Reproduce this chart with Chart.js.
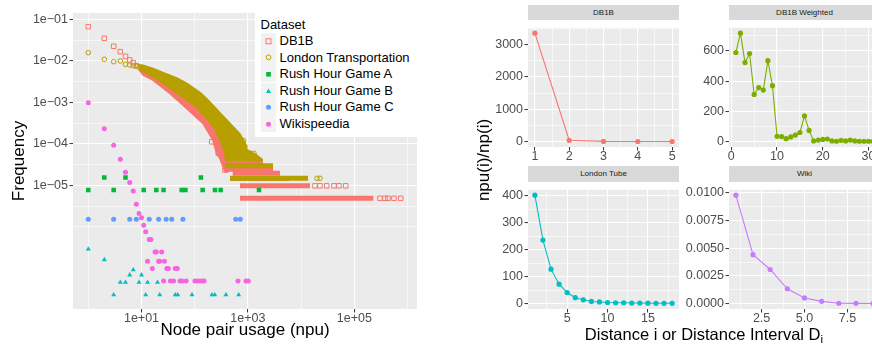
<!DOCTYPE html>
<html><head><meta charset="utf-8">
<script src="https://cdn.jsdelivr.net/npm/chart.js@4.4.1/dist/chart.umd.min.js"></script>
<style>
html,body{margin:0;padding:0;background:#fff;width:872px;height:346px;overflow:hidden;font-family:"Liberation Sans",Arial,Helvetica,sans-serif;}
canvas{position:absolute;}
.strip{position:absolute;background:#d9d9d9;color:#1a1a1a;font-size:8px;text-align:center;white-space:nowrap;}
.lg{position:absolute;font-size:13px;color:#000;white-space:nowrap;line-height:16px;}
.key{position:absolute;left:261px;width:15px;height:16.6px;background:#f2f2f2;}
.key svg{position:absolute;left:0;top:0;}
.ttl{position:absolute;color:#000;white-space:nowrap;text-align:center;}
sub{font-size:70%;vertical-align:-0.3em;line-height:0;}
</style></head><body>
<canvas id="main" width="427" height="346" style="left:0;top:0"></canvas>
<canvas id="f1" width="211" height="143" style="left:478px;top:20px"></canvas>
<canvas id="f2" width="212" height="143" style="left:680px;top:20px"></canvas>
<canvas id="f3" width="211" height="143" style="left:478px;top:182px"></canvas>
<canvas id="f4" width="212" height="143" style="left:680px;top:182px"></canvas>

<div style="position:absolute;left:255px;top:13px;width:162px;height:124px;background:#fff"></div>
<div class="lg" style="left:260.5px;top:16.5px">Dataset</div>
<div class="key" style="top:32.7px"><svg width="15" height="17"><rect x="5" y="5.8" width="5" height="5" fill="none" stroke="#F8766D" stroke-width="1"/></svg></div>
<div class="key" style="top:49.3px"><svg width="15" height="17"><circle cx="7.5" cy="8.3" r="2.4" fill="none" stroke="#B79F00" stroke-width="1"/></svg></div>
<div class="key" style="top:65.9px"><svg width="15" height="17"><rect x="5.2" y="6" width="4.6" height="4.6" fill="#00BA38"/></svg></div>
<div class="key" style="top:82.5px"><svg width="15" height="17"><polygon points="7.5,5.6 10,10 5,10" fill="#00BFC4"/></svg></div>
<div class="key" style="top:99.1px"><svg width="15" height="17"><circle cx="7.5" cy="8.3" r="2.5" fill="#619CFF"/></svg></div>
<div class="key" style="top:115.7px"><svg width="15" height="17"><circle cx="7.5" cy="8.3" r="2.5" fill="#F564E3"/></svg></div>
<div class="lg" style="left:279.5px;top:33px">DB1B</div>
<div class="lg" style="left:279.5px;top:49.6px">London Transportation</div>
<div class="lg" style="left:279.5px;top:66.2px">Rush Hour Game A</div>
<div class="lg" style="left:279.5px;top:82.8px">Rush Hour Game B</div>
<div class="lg" style="left:279.5px;top:99.4px">Rush Hour Game C</div>
<div class="lg" style="left:279.5px;top:116px">Wikispeedia</div>

<div class="strip" style="left:528px;top:5px;width:151px;height:15px;line-height:15px">DB1B</div>
<div class="strip" style="left:729px;top:5px;width:151px;height:15px;line-height:15px">DB1B Weighted</div>
<div class="strip" style="left:528px;top:166px;width:151px;height:16px;line-height:16px">London Tube</div>
<div class="strip" style="left:729px;top:166px;width:151px;height:16px;line-height:16px">Wiki</div>

<div class="ttl" style="left:384px;top:150px;width:200px;height:20px;line-height:20px;font-size:17px;transform:rotate(-90deg);">npu(i)/np(i)</div>
<div class="ttl" style="left:528px;top:324.3px;width:352px;height:20px;line-height:20px;font-size:16.5px;">Distance i or Distance Interval D<sub>i</sub></div>

<script>
// ===================== LEFT PANEL DATA (npu vs frequency) =====================
const db1bNpu  = [1, 2, 3, 4, 5, 6, 7, 8, 209, 278, 345, 371];
const db1bFreq = [0.0664, 0.0348, 0.0224, 0.0166, 0.0128, 0.0105, 0.009, 0.0076, 1.12e-4, 5.9e-5, 4.07e-5, 2.34e-5];
// outline of the dense DB1B point cloud
const db1bCloudNpu  = [9, 12.5, 25.7, 53, 109, 194, 326, 461, 820, 1100, 1100, 400, 371, 299, 259, 221, 145, 70.8, 34.3, 16.4, 10.7, 9];
const db1bCloudFreq = [0.0078, 0.0062, 0.0033, 0.0017, 0.00086, 0.00037, 0.000124, 5.4e-5, 4.5e-5, 3.8e-5, 3.4e-5, 2.1e-5, 2.2e-5, 4.5e-5, 6.0e-5, 0.000124, 0.00031, 0.00072, 0.00165, 0.00345, 0.0046, 0.0062];
// dense horizontal runs of DB1B points (low counts)
const db1bBandFreq = [4.86e-6, 9.72e-6, 1.46e-5, 1.94e-5, 2.43e-5, 3.6e-5];
const db1bBandFrom = [711, 711, 461, 518, 461, 387];
const db1bBandTo   = [227500, 14700, 6180, 4012, 2965, 1923];
const db1bTailNpu  = [18240, 22650, 30270, 41500, 51520, 68900, 304000, 377600, 429700, 557200, 744700];
const db1bTailFreq = [9.72e-6, 9.72e-6, 9.72e-6, 9.72e-6, 9.72e-6, 9.72e-6, 4.86e-6, 4.86e-6, 4.86e-6, 4.86e-6, 4.86e-6];

const londonNpu  = [1, 2, 3, 4, 5, 6, 7, 8, 9, 830, 880, 1130, 1300, 19910, 22650];
const londonFreq = [0.0157, 0.0109, 0.0095, 0.0099, 0.0082, 0.0079, 0.0076, 0.0074, 0.0070, 1.19e-4, 8.7e-5, 5.9e-5, 5.9e-5, 1.476e-5, 1.476e-5];
const londonCloudNpu  = [9, 10.7, 16.4, 25.7, 45.9, 68.6, 94, 126, 168, 224, 299, 400, 532, 711, 881, 961, 1420, 1840, 1840, 387, 371, 326, 251, 194, 109, 53, 25.7, 12.5, 9];
const londonCloudFreq = [0.0079, 0.0077, 0.0065, 0.0051, 0.0038, 0.0029, 0.0022, 0.0017, 0.0012, 0.00082, 0.00055, 0.00037, 0.00025, 0.00017, 0.000104, 7.1e-5, 5.4e-5, 4.2e-5, 4.0e-5, 4.0e-5, 6.0e-5, 9.9e-5, 0.000215, 0.000335, 0.00078, 0.0015, 0.0029, 0.0052, 0.0062];
const londonBandFreq = [1.476e-5, 2.95e-5];
const londonBandFrom = [461, 371];
const londonBandTo   = [13490, 2965];

const rushANpu  = [1, 3, 11, 19, 26, 57, 67, 141, 241, 308, 1617, 2, 5, 131];
const rushAFreq = [7.7e-6, 7.7e-6, 7.7e-6, 7.7e-6, 7.7e-6, 7.7e-6, 7.7e-6, 7.7e-6, 7.7e-6, 7.7e-6, 7.7e-6, 1.54e-5, 1.54e-5, 1.54e-5];

const rushBNpu  = [1, 2, 7, 6, 10, 4, 5, 9, 13, 20, 3, 12, 22, 43, 48, 89, 211, 238, 387, 671];
const rushBFreq = [2.9e-7, 1.61e-7, 9.2e-8, 6.9e-8, 6.9e-8, 4.6e-8, 4.6e-8, 4.6e-8, 4.6e-8, 4.6e-8, 2.3e-8, 2.3e-8, 2.3e-8, 2.3e-8, 2.3e-8, 2.3e-8, 2.3e-8, 2.3e-8, 2.3e-8, 2.3e-8];

const rushCNpu  = [1, 3, 6, 8, 14, 21, 29, 37, 60, 590, 720];
const rushCFreq = [1.52e-6, 1.52e-6, 1.52e-6, 1.52e-6, 1.52e-6, 1.52e-6, 1.52e-6, 1.52e-6, 1.52e-6, 1.52e-6, 1.52e-6];

const wikiNpu  = [1, 2, 3, 4, 5, 6, 7, 8, 9, 10, 11, 12, 14, 15, 18, 19, 24, 13, 21, 22, 27, 16, 30, 32, 43, 47, 26, 35, 40, 53, 58, 69, 101, 112, 126, 141, 150, 651, 921, 1018];
const wikiFreq = [9.8e-4, 2.31e-4, 9.2e-5, 4.23e-5, 2.06e-5, 1.16e-5, 7.3e-6, 3.51e-6, 2.09e-6, 1.66e-6, 1.09e-6, 7.6e-7, 4.94e-7, 4.94e-7, 2.47e-7, 2.47e-7, 2.47e-7, 1.48e-7, 1.48e-7, 1.48e-7, 1.48e-7, 9.9e-8, 9.9e-8, 9.9e-8, 9.9e-8, 9.9e-8, 4.94e-8, 4.94e-8, 4.94e-8, 4.94e-8, 4.94e-8, 4.94e-8, 4.94e-8, 4.94e-8, 4.94e-8, 4.94e-8, 4.94e-8, 4.94e-8, 4.94e-8, 4.94e-8];

// tick values / labels of the left panel
const mainXTicks  = [10, 1000, 100000];
const mainXLabels = ['1e+01', '1e+03', '1e+05'];
const mainXMinor  = [1, 100, 10000, 1000000];
const mainYTicks  = [1e-1, 1e-2, 1e-3, 1e-4, 1e-5];
const mainYLabels = ['1e\u221201', '1e\u221202', '1e\u221203', '1e\u221204', '1e\u221205'];
const mainYMinor  = [0.0316, 0.00316, 3.16e-4, 3.16e-5, 3.16e-6, 1e-6];

// ===================== RIGHT PANELS DATA (npu(i)/np(i)) =====================
const db1bDist  = [1, 2, 3, 4, 5];
const db1bRatio = [3355, 40, 5, 3, 2];
const db1bwDist  = [1, 2, 3, 4, 5, 6, 7, 8, 9, 10, 11, 12, 13, 14, 15, 16, 17, 18, 19, 20, 21, 22, 23, 24, 25, 26, 27, 28, 29, 30, 31];
const db1bwRatio = [590, 718, 523, 583, 312, 358, 341, 536, 370, 35, 33, 19, 31, 43, 60, 170, 74, 4, 10, 14, 17, 4, 2, 8, 4, 10, 4, 2, 2, 2, 2];
const tubeDist  = [1, 2, 3, 4, 5, 6, 7, 8, 9, 10, 11, 12, 13, 14, 15, 16, 17, 18];
const tubeRatio = [403, 236, 128, 72, 41, 22, 14, 8, 6, 4, 3, 3, 2, 2, 1.5, 1, 1, 1];
const wikiDist  = [1, 2, 3, 4, 5, 6, 7, 8, 9];
const wikiRatio = [0.0098, 0.00442, 0.00308, 0.00134, 0.00051, 0.0002, 0.00003, 0.00002, 0.00001];

// ===================== CHART SETUP =====================
Chart.defaults.font.family = '"Liberation Sans", Arial, Helvetica, sans-serif';
Chart.defaults.animation = false;

const panelBg = {
  id: 'panelBg',
  beforeDraw(chart) {
    const a = chart.chartArea, c = chart.ctx;
    c.save(); c.fillStyle = '#EBEBEB';
    c.fillRect(a.left, a.top, a.right - a.left, a.bottom - a.top);
    c.restore();
  }
};

const pts = (xs, ys) => xs.map((x, i) => ({x: x, y: ys[i]}));
const mkTicks = (maj, labs, min) => maj.map((v, i) => ({value: v, mj: true, lab: labs[i]}))
  .concat(min.map(v => ({value: v, mj: false, lab: ''})))
  .sort((a, b) => a.value - b.value);

function gridCfg() {
  return {
    color: '#FFFFFF',
    lineWidth: c => (c.tick && c.tick.mj) ? 1.1 : 0.6,
    tickColor: c => (c.tick && c.tick.mj) ? '#333333' : 'rgba(0,0,0,0)',
    tickLength: 3.5, tickWidth: 1, drawTicks: true, drawOnChartArea: true
  };
}
function axisCfg(type, min, max, ticks, isX, size, title) {
  return {
    type: type, min: min, max: max, bounds: 'data',
    afterBuildTicks: s => { s.ticks = ticks.map(t => Object.assign({}, t)); },
    afterFit: s => { if (isX) s.height = size; else s.width = size; },
    ticks: {
      autoSkip: false, maxRotation: 0, minRotation: 0,
      callback: (v, i, ts) => ts[i].lab,
      color: '#4D4D4D', font: {size: 12.5, lineHeight: 1}, padding: isX ? 0 : 1.5
    },
    grid: gridCfg(),
    border: {display: false},
    title: title || {display: false}
  };
}

// ---------- left panel ----------
const COL = {db1b: '#F8766D', london: '#B79F00', rushA: '#00BA38', rushB: '#00BFC4', rushC: '#619CFF', wiki: '#F564E3'};
const ds = [];
ds.push({data: pts(db1bCloudNpu, db1bCloudFreq), showLine: true, fill: 'shape', tension: 0,
  backgroundColor: COL.db1b, borderColor: COL.db1b, borderWidth: 2, pointRadius: 0, order: 6});
db1bBandFreq.forEach((f, i) => ds.push({data: [{x: db1bBandFrom[i], y: f}, {x: db1bBandTo[i], y: f}],
  showLine: true, fill: false, borderColor: COL.db1b, borderWidth: 5, borderCapStyle: 'butt', pointRadius: 0, order: 6}));
ds.push({data: pts(db1bNpu.concat(db1bTailNpu), db1bFreq.concat(db1bTailFreq)), pointStyle: 'rect',
  pointRadius: 3.2, borderWidth: 1, borderColor: COL.db1b, backgroundColor: 'rgba(0,0,0,0)', order: 6});

ds.push({data: pts(londonCloudNpu, londonCloudFreq), showLine: true, fill: 'shape', tension: 0,
  backgroundColor: COL.london, borderColor: COL.london, borderWidth: 2, pointRadius: 0, order: 5});
londonBandFreq.forEach((f, i) => ds.push({data: [{x: londonBandFrom[i], y: f}, {x: londonBandTo[i], y: f}],
  showLine: true, fill: false, borderColor: COL.london, borderWidth: 5, borderCapStyle: 'butt', pointRadius: 0, order: 5}));
ds.push({data: pts(londonNpu, londonFreq), pointStyle: 'circle', pointRadius: 2.3, borderWidth: 1,
  borderColor: COL.london, backgroundColor: 'rgba(0,0,0,0)', order: 5});

ds.push({data: pts(rushANpu, rushAFreq), pointStyle: 'rect', pointRadius: 3.2, borderWidth: 0,
  backgroundColor: COL.rushA, borderColor: COL.rushA, order: 4});
ds.push({data: pts(rushBNpu, rushBFreq), pointStyle: 'triangle', pointRadius: 2.9, borderWidth: 0,
  backgroundColor: COL.rushB, borderColor: COL.rushB, order: 3});
ds.push({data: pts(rushCNpu, rushCFreq), pointStyle: 'circle', pointRadius: 2.5, borderWidth: 0,
  backgroundColor: COL.rushC, borderColor: COL.rushC, order: 2});
ds.push({data: pts(wikiNpu, wikiFreq), pointStyle: 'circle', pointRadius: 2.5, borderWidth: 0,
  backgroundColor: COL.wiki, borderColor: COL.wiki, order: 1});

new Chart(document.getElementById('main'), {
  type: 'scatter',
  data: {datasets: ds},
  options: {
    responsive: false, animation: false, events: [],
    layout: {padding: {top: 13, right: 10, left: 0, bottom: 0}},
    plugins: {legend: {display: false}, tooltip: {enabled: false}},
    scales: {
      x: axisCfg('logarithmic', 0.5158, 1.51e6, mkTicks(mainXTicks, mainXLabels, mainXMinor), true, 37,
        {display: true, text: 'Node pair usage (npu)', color: '#000', font: {size: 17}, padding: {top: 0, bottom: 5}}),
      y: axisCfg('logarithmic', 1.045e-8, 0.1419, mkTicks(mainYTicks, mainYLabels, mainYMinor), false, 73,
        {display: true, text: 'Frequency', color: '#000', font: {size: 17}, padding: {top: 8.8, bottom: 0}})
    }
  },
  plugins: [panelBg]
});

// ---------- facets ----------
function facet(id, xs, ys, color, xr, yr, xMaj, xMin, yMaj, yMin, fx, fy, yW, padR) {
  new Chart(document.getElementById(id), {
    type: 'scatter',
    data: {datasets: [{data: pts(xs, ys), showLine: true, tension: 0, borderColor: color, borderWidth: 1.1,
      backgroundColor: color, pointRadius: 2.6, pointBorderWidth: 0, pointBackgroundColor: color}]},
    options: {
      responsive: false, animation: false, events: [],
      layout: {padding: {top: 0, right: padR, left: 0, bottom: 0}},
      plugins: {legend: {display: false}, tooltip: {enabled: false}},
      scales: {
        x: axisCfg('linear', xr[0], xr[1], mkTicks(xMaj, xMaj.map(fx), xMin), true, 16),
        y: axisCfg('linear', yr[0], yr[1], mkTicks(yMaj, yMaj.map(fy), yMin), false, yW)
      }
    },
    plugins: [panelBg]
  });
}
const sInt = v => String(v);
facet('f1', db1bDist, db1bRatio, '#F8766D', [0.8, 5.2], [-168, 3523],
  [1, 2, 3, 4, 5], [1.5, 2.5, 3.5, 4.5], [0, 1000, 2000, 3000], [500, 1500, 2500, 3500], sInt, sInt, 50, 10);
facet('f2', db1bwDist, db1bwRatio, '#7CAE00', [-0.5, 32.5], [-36, 754],
  [0, 10, 20, 30], [5, 15, 25], [0, 200, 400, 600], [100, 300, 500, 700], sInt, sInt, 49, 12);
facet('f3', tubeDist, tubeRatio, '#00BFC4', [0.15, 18.85], [-20.15, 423.15],
  [5, 10, 15], [2.5, 7.5, 12.5, 17.5], [0, 100, 200, 300, 400], [50, 150, 250, 350], sInt, sInt, 50, 10);
facet('f4', wikiDist, wikiRatio, '#C77CFF', [0.6, 9.4], [-0.00049, 0.01029],
  [2.5, 5, 7.5], [1.25, 3.75, 6.25, 8.75], [0, 0.0025, 0.005, 0.0075, 0.01], [0.00125, 0.00375, 0.00625, 0.00875],
  v => v.toFixed(1), v => v.toFixed(4), 49, 12);
</script>
</body></html>
